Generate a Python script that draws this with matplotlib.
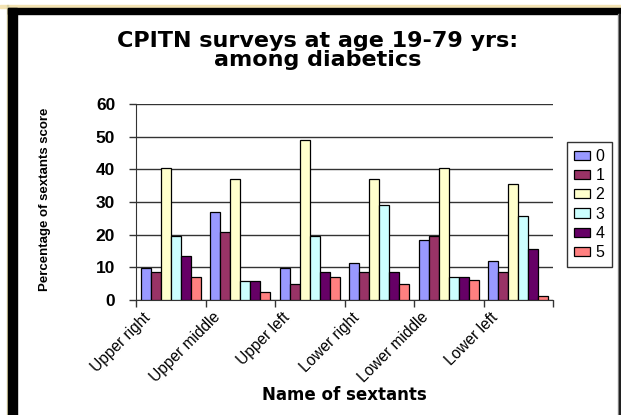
import matplotlib
matplotlib.use("Agg")
import matplotlib.pyplot as plt
import matplotlib.transforms as mtransforms
from matplotlib.patches import Rectangle
import numpy as np

plt.rcParams['font.family'] = ['Liberation Sans', 'DejaVu Sans']

# percentage of sextants by CPITN score, one list per score
sextants = ['Upper right', 'Upper middle', 'Upper left', 'Lower right', 'Lower middle', 'Lower left']
scores = ['0', '1', '2', '3', '4', '5']
score0 = [9.7, 26.8, 9.7, 11.2, 18.3, 12.0]
score1 = [8.5, 20.7, 4.8, 8.5, 19.7, 8.5]
score2 = [40.4, 36.9, 49.1, 36.9, 40.5, 35.6]
score3 = [19.7, 5.9, 19.7, 29.2, 7.1, 25.7]
score4 = [13.6, 5.9, 8.5, 8.5, 7.1, 15.7]
score5 = [7.1, 2.4, 7.1, 4.9, 6.1, 1.2]
series = [score0, score1, score2, score3, score4, score5]
colors = ['#9999FF', '#993366', '#FFFFCC', '#CCFFFF', '#660066', '#FF8080']

W, H = 621, 415
fig = plt.figure(figsize=(W / 100, H / 100), dpi=100)
fig.patch.set_facecolor('white')

def px(x0, y0, w, h):
    # rectangle in pixel coords (top-left origin) -> figure fraction
    return [x0 / W, 1 - (y0 + h) / H, w / W, h / H]

# window frame around the chart
for (x0, y0, w, h, c) in [(0, 5, W, 3, '#F3E3B3'), (7, 5, 1, H, '#D8CFA0'),
                          (8, 8, W, 6, 'black'), (8, 8, 9, H, 'black'),
                          (618, 14, 1, H, '#999999'), (619, 14, 2, H, '#202020')]:
    fig.patches.append(Rectangle((x0 / W, 1 - (y0 + h) / H), w / W, h / H,
                                 transform=fig.transFigure, color=c, zorder=0))

ax = fig.add_axes(px(136, 104, 417, 196))
x = np.arange(len(sextants))
bw = 0.145
for j, vals in enumerate(series):
    ax.bar(x + (j - 2.5) * bw, vals, bw, color=colors[j], edgecolor='black',
           linewidth=0.9, label=scores[j], zorder=3)

ax.set_xlim(-0.5, 5.5)
ax.set_ylim(0, 60)
ax.set_yticks(range(0, 61, 10))
ax.grid(axis='y', color='#333333', linewidth=1.0, zorder=1)
for s in ['top', 'right']:
    ax.spines[s].set_visible(False)
ax.spines['left'].set_color('#333333')
ax.spines['bottom'].set_color('#333333')
ax.tick_params(axis='y', length=5, width=1, color='#333333', pad=10, labelsize=12.5)
for t in ax.get_yticklabels():
    t.set_fontweight('bold')

# category boundaries carry the tick marks, labels sit near the centres
ax.set_xticks(np.arange(-0.5, 5.6, 1), minor=True)
ax.set_xticks(x)
ax.set_xticklabels(sextants, rotation=45, ha='right', va='top', rotation_mode='anchor',
                   fontsize=11.2)
ax.tick_params(axis='x', which='major', length=0, pad=7)
ax.tick_params(axis='x', which='minor', length=5, width=1, color='#333333')
shift = mtransforms.ScaledTranslation(-28 / 100, 0, fig.dpi_scale_trans)
for t in ax.get_xticklabels():
    t.set_transform(t.get_transform() + shift)

# va='baseline' pins the second line's baseline
fig.text(318 / W, 1 - 66 / H, 'CPITN surveys at age 19-79 yrs:\namong diabetics',
         ha='center', va='baseline', multialignment='center', linespacing=0.92,
         fontsize=16, fontweight='bold', family='DejaVu Sans')
fig.text(344 / W, 1 - 395 / H, 'Name of sextants', ha='center', va='center',
         fontsize=12, fontweight='bold', family='DejaVu Sans')
fig.text(45 / W, 1 - 199 / H, 'Percentage of sextants score', ha='center', va='center',
         rotation=90, fontsize=9.5, fontweight='bold')

leg = ax.legend(loc='upper left', bbox_to_anchor=(567 / W, 1 - 142 / H),
                bbox_transform=fig.transFigure, frameon=True, fancybox=False,
                borderaxespad=0, handlelength=1.0, handleheight=0.5, handletextpad=0.35,
                labelspacing=0.26, borderpad=0.45, fontsize=11.5)
leg.get_frame().set_edgecolor('black')
leg.get_frame().set_linewidth(1.0)

fig.savefig('out.png', dpi=100)
